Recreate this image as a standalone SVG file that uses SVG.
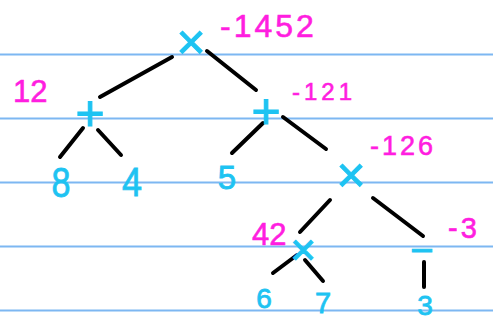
<svg xmlns="http://www.w3.org/2000/svg" width="493" height="326" viewBox="0 0 493 326">
<style>
.rule{stroke:#7db7f2;stroke-width:2}
.edge{stroke:#000;stroke-width:4;stroke-linecap:round;fill:none}
.op{fill:#1ec3f2;stroke:#1ec3f2;stroke-width:1;font-family:"Liberation Sans",Arial,sans-serif;text-anchor:middle}
.num{fill:#1ec3f2;stroke:#1ec3f2;stroke-width:0.8;font-family:"Liberation Sans",Arial,sans-serif;text-anchor:middle}
.val{fill:#ff1ee0;stroke:#ff1ee0;stroke-width:0.6;font-family:"Liberation Sans",Arial,sans-serif}
</style>
<rect width="493" height="326" fill="#fff"/>
<g id="rules">
<line class="rule" x1="0" y1="54.5" x2="493" y2="54.5"/>
<line class="rule" x1="0" y1="118.5" x2="493" y2="118.5"/>
<line class="rule" x1="0" y1="182.5" x2="493" y2="182.5"/>
<line class="rule" x1="0" y1="246.5" x2="493" y2="246.5"/>
<line class="rule" x1="0" y1="310.5" x2="493" y2="310.5"/>
</g>
<g id="connectors">
<line class="edge" x1="172" y1="57" x2="100" y2="97"/>
<line class="edge" x1="207" y1="51" x2="256" y2="90"/>
<line class="edge" x1="83" y1="128" x2="60" y2="157"/>
<line class="edge" x1="98" y1="130" x2="121" y2="155"/>
<line class="edge" x1="263" y1="123" x2="232" y2="153"/>
<line class="edge" x1="283" y1="117" x2="326" y2="149"/>
<line class="edge" x1="330" y1="200" x2="300" y2="232"/>
<line class="edge" x1="373" y1="198" x2="423" y2="236"/>
<line class="edge" x1="297" y1="255" x2="273" y2="273"/>
<line class="edge" x1="305" y1="260" x2="323" y2="281"/>
<line class="edge" x1="424" y1="262" x2="424" y2="287"/>
</g>
<g id="root">
<text class="op" x="191" y="59" font-size="50">×</text>
<text class="val" x="220" y="37" font-size="32" letter-spacing="3">-1452</text>
</g>
<g id="plus-left">
<text class="op" x="90" y="130" font-size="50">+</text>
<text class="val" x="13" y="102" font-size="31">12</text>
</g>
<g id="plus-right">
<text class="op" x="266" y="128" font-size="50">+</text>
<text class="val" x="292" y="100" font-size="24" letter-spacing="4">-121</text>
</g>
<g id="n8"><text class="num" x="61" y="197" font-size="43" textLength="19" lengthAdjust="spacingAndGlyphs">8</text></g>
<g id="n4"><text class="num" x="132" y="196" font-size="40" textLength="20" lengthAdjust="spacingAndGlyphs">4</text></g>
<g id="n5"><text class="num" x="227" y="189" font-size="33">5</text></g>
<g id="times-mid">
<text class="op" x="351" y="192" font-size="50">×</text>
<text class="val" x="370" y="155" font-size="27" letter-spacing="3">-126</text>
</g>
<g id="times-small">
<text class="op" x="303" y="265" font-size="44">×</text>
<text class="val" x="252" y="245" font-size="31">42</text>
</g>
<g id="minus">
<text class="op" x="422" y="264" font-size="40">−</text>
<text class="val" x="448" y="238" font-size="29" letter-spacing="3">-3</text>
</g>
<g id="n6"><text class="num" x="264" y="308" font-size="28">6</text></g>
<g id="n7"><text class="num" x="323" y="313" font-size="29">7</text></g>
<g id="n3"><text class="num" x="425" y="315" font-size="28">3</text></g>
</svg>
